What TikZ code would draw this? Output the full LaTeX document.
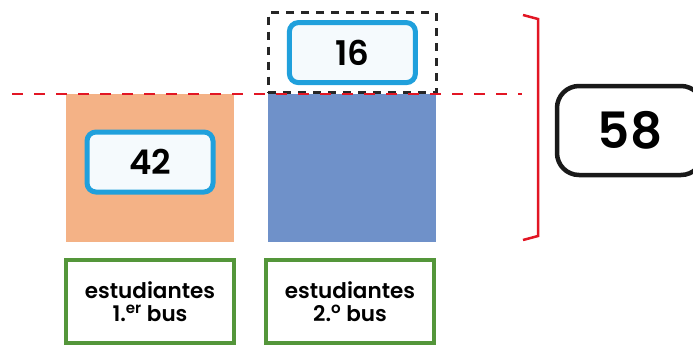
\documentclass[tikz,border=0pt]{standalone}
\usepackage{fontspec}
\setmainfont{Poppins}[BoldFont={Poppins SemiBold}]
\usetikzlibrary{positioning}
\definecolor{barorange}{RGB}{244,178,134}
\definecolor{barblue}{RGB}{111,145,201}
\definecolor{numblue}{RGB}{32,160,220}
\definecolor{numfill}{RGB}{245,250,253}
\definecolor{lblgreen}{RGB}{84,150,58}
\definecolor{cutred}{RGB}{226,22,36}
\tikzset{
  bar/.style={rectangle,inner sep=0pt,minimum width=168pt,minimum height=148pt},
  extrabox/.style={rectangle,draw=black!85,line width=2.4pt,
    dash pattern=on 8pt off 7pt,inner sep=0pt,minimum width=168pt,minimum height=80pt},
  numbox/.style={rectangle,rounded corners=9pt,draw=numblue,line width=5pt,
    fill=numfill,minimum width=126pt,minimum height=60pt,
    font=\fontsize{34}{34}\selectfont\bfseries},
  totbox/.style={rectangle,rounded corners=22pt,draw=black!90,line width=4.5pt,
    minimum width=146pt,minimum height=89pt,
    font=\fontsize{50}{50}\selectfont\bfseries},
  lblbox/.style={rectangle,draw=lblgreen,line width=4pt,minimum width=168pt,
    minimum height=83pt,align=center,
    font=\fontsize{21.5}{23}\selectfont\bfseries},
  cutline/.style={cutred,line width=2.2pt,dash pattern=on 11pt off 11pt},
  bracket/.style={cutred,line width=2.5pt},
}
\begin{document}
\begin{tikzpicture}[x=1pt,y=-1pt]
  \useasboundingbox (0,0) rectangle (693,346);
  \node[bar,fill=barorange] (bar1) at (150,168) {};
  \node[bar,fill=barblue,right=34pt of bar1] (bar2) {};
  \node[extrabox,above=0pt of bar2] (extra) {};
  \node[numbox] (n42) at (150,162) {42};
  \node[numbox] (n16) at (extra) {16};
  \node[lblbox] (lbl1) at (150,301.5) {estudiantes\\1.\textsuperscript{er} bus};
  \node[lblbox] (lbl2) at (350,301.5) {estudiantes\\2.\textsuperscript{o} bus};
  \node[totbox] (tot) at (630,130.5) {58};
  % red cut line and bracket
  \draw[cutline] (12,94) -- (522,94);
  \draw[bracket] (523,15) -- (538,19) -- (538,236) -- (523,240);
\end{tikzpicture}
\end{document}
